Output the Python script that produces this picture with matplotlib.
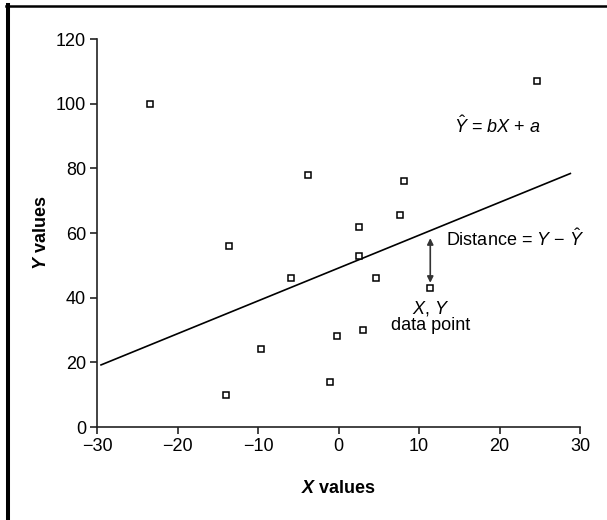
import matplotlib
matplotlib.use("Agg")
import matplotlib.pyplot as plt
from matplotlib import font_manager
from matplotlib.lines import Line2D

# data points
x_vals = [-23.4, 24.6, -3.8, 8.1, 7.6, 2.6, -13.6, 2.5, -5.9, 4.6, 11.4, 3.1, -0.2, -9.6, -1.0, -14.0]
y_vals = [100, 107, 78, 76, 65.5, 62, 56, 53, 46, 46, 43, 30, 28, 24, 14, 10]

# regression line end points
line_x = [-29.5, 28.8]
line_y = [19.2, 78.4]

# the highlighted point and its residual
pt_x = 11.4
pt_y = 43
fit_y = 58.4

x_ticks = [-30, -20, -10, 0, 10, 20, 30]
y_ticks = [0, 20, 40, 60, 80, 100, 120]

# narrow Helvetica-like face if we have one
names = {f.name for f in font_manager.fontManager.ttflist}
face = "Liberation Sans Narrow" if "Liberation Sans Narrow" in names else "Liberation Sans"
plt.rcParams["font.family"] = [face, "DejaVu Sans"]
plt.rcParams["mathtext.fontset"] = "custom"
plt.rcParams["mathtext.rm"] = face
plt.rcParams["mathtext.it"] = face + ":italic"
plt.rcParams["mathtext.bf"] = face + ":bold:italic"

fig = plt.figure(figsize=(6.07, 5.20), dpi=100)
ax = fig.add_axes([97 / 607, 1 - 427 / 520, 483 / 607, 388 / 520])

ax.plot(line_x, line_y, color="black", lw=1.2)
ax.plot(x_vals, y_vals, ls="none", marker="s", ms=5, mfc="white", mec="black", mew=1.1)

ax.annotate("", xy=(pt_x, pt_y + 1.6), xytext=(pt_x, fit_y),
            arrowprops=dict(arrowstyle="<|-|>", color="#333333", lw=1.2,
                            mutation_scale=9, shrinkA=0, shrinkB=0))

ax.text(19.7, 93, r"$\hat{Y}$ = $bX$ + $a$", fontsize=13, ha="center", va="center")
ax.text(13.4, 58.2, r"Distance = $Y$ $-$ $\hat{Y}$", fontsize=13, ha="left", va="center")
ax.text(pt_x, 36.6, r"$X$, $Y$", fontsize=13, ha="center", va="center")
ax.text(pt_x, 31.3, "data point", fontsize=13, ha="center", va="center")

ax.set_xlim(-30, 30)
ax.set_ylim(0, 120)
ax.set_xticks(x_ticks)
ax.set_yticks(y_ticks)
ax.tick_params(labelsize=13, width=1.2, length=5, pad=3, color="#222222")

for side in ["top", "right"]:
    ax.spines[side].set_visible(False)
for side in ["left", "bottom"]:
    ax.spines[side].set_linewidth(1.2)
    ax.spines[side].set_color("#222222")

ax.set_xlabel(r"$\mathbf{X}$ values", fontsize=13, fontweight="bold", labelpad=18)
ax.set_ylabel(r"$\mathbf{Y}$ values", fontsize=13, fontweight="bold", labelpad=4)

# outer frame (left and top edges only)
fig.add_artist(Line2D([8 / 607, 8 / 607], [0, 1 - 5 / 520], color="black", lw=2.9))
fig.add_artist(Line2D([6 / 607, 1], [1 - 6 / 520, 1 - 6 / 520], color="black", lw=1.8))

fig.savefig("out.png", dpi=100)
